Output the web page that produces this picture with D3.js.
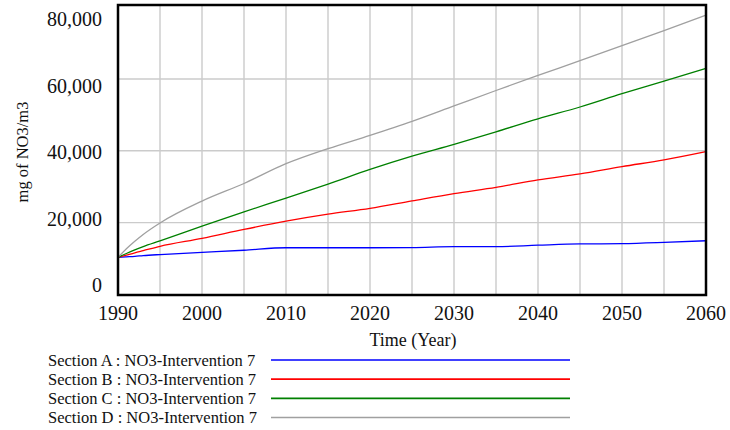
<!DOCTYPE html>
<html>
<head>
<meta charset="utf-8">
<script src="https://cdn.jsdelivr.net/npm/d3@7"></script>
<style>
  html, body { margin: 0; padding: 0; background: #fff; }
  svg { display: block; font-family: "Liberation Serif", "Times New Roman", serif; }
</style>
</head>
<body>
<svg id="chart" width="730" height="430"></svg>
<script>
// ---- data ----
const years = [1990, 1991, 1992, 1993, 1995, 2000, 2005, 2010, 2015, 2020, 2025, 2030, 2035, 2040, 2045, 2050, 2055, 2060];
const sectionA = [10300, 10450, 10600, 10800, 11100, 11700, 12300, 13000, 13000, 13000, 13050, 13300, 13300, 13700, 14050, 14150, 14500, 14950];
const sectionB = [10300, 10950, 11600, 12200, 13400, 15600, 18100, 20400, 22350, 23950, 26050, 28100, 29800, 31900, 33550, 35600, 37450, 39750];
const sectionC = [10300, 11400, 12400, 13300, 14900, 19000, 23000, 26800, 30700, 34800, 38500, 41800, 45300, 48900, 52200, 55900, 59400, 62950];
const sectionD = [10300, 12700, 14800, 16700, 19900, 26000, 30900, 36400, 40600, 44300, 48200, 52500, 56800, 61000, 65100, 69300, 73500, 77800];
const seriesNames = ["Section A : NO3-Intervention 7", "Section B : NO3-Intervention 7",
                     "Section C : NO3-Intervention 7", "Section D : NO3-Intervention 7"];
const seriesColors = ["#0000ff", "#ff0000", "#008000", "#a0a0a0"];
const xTicks = [1990, 2000, 2010, 2020, 2030, 2040, 2050, 2060];
const xGrid = [1995, 2000, 2005, 2010, 2015, 2020, 2025, 2030, 2035, 2040, 2045, 2050, 2055];
const yTicks = [0, 20000, 40000, 60000, 80000];
const yGrid = [20000, 40000, 60000];
const xTitle = "Time (Year)";
const yTitle = "mg of NO3/m3";

const allSeries = [sectionA, sectionB, sectionC, sectionD];

// ---- layout ----
const L = 118, R = 706, T = 5, B = 295;
const svg = d3.select("#chart");

const x = d3.scaleLinear().domain([1990, 2060]).range([L, R]);
const y = d3.scaleLinear().domain([0, 80000]).range([294.4, 7.2]);
// tick labels in the reference sit on a slightly compressed spacing
const yLab = d3.scaleLinear().domain([0, 80000]).range([285, 19]);
const fmt = d3.format(",");

// grid
svg.append("g").selectAll("line").data(xGrid).join("line")
  .attr("x1", d => x(d)).attr("x2", d => x(d)).attr("y1", T).attr("y2", B)
  .attr("stroke", "#cbcbcb").attr("stroke-width", 1.4);
svg.append("g").selectAll("line").data(yGrid).join("line")
  .attr("x1", L).attr("x2", R).attr("y1", d => y(d)).attr("y2", d => y(d))
  .attr("stroke", "#cbcbcb").attr("stroke-width", 1.4);

// lines
const line = d3.line().x((d, i) => x(years[i])).y(d => y(d)).curve(d3.curveMonotoneX);
svg.append("g").selectAll("path").data(allSeries).join("path")
  .attr("d", d => line(d))
  .attr("fill", "none")
  .attr("stroke", (d, i) => seriesColors[i])
  .attr("stroke-width", 1.3);

// frame
svg.append("rect").attr("x", L).attr("y", T).attr("width", R - L).attr("height", B - T)
  .attr("fill", "none").attr("stroke", "#000").attr("stroke-width", 2.5);

// y tick labels
svg.append("g").selectAll("text").data(yTicks).join("text")
  .attr("x", 102).attr("y", d => yLab(d)).attr("dy", "0.35em")
  .attr("text-anchor", "end").attr("font-size", 20).attr("fill", "#111")
  .text(d => fmt(d));

// x tick labels
svg.append("g").selectAll("text").data(xTicks).join("text")
  .attr("x", d => x(d)).attr("y", 313).attr("dy", "0.35em")
  .attr("text-anchor", "middle").attr("font-size", 20).attr("fill", "#111")
  .text(d => d);

// axis titles
svg.append("text").attr("x", 413).attr("y", 340).attr("dy", "0.35em")
  .attr("text-anchor", "middle").attr("font-size", 18).attr("fill", "#111")
  .text(xTitle);
svg.append("text").attr("transform", "translate(22,152) rotate(-90)").attr("dy", "0.35em")
  .attr("text-anchor", "middle").attr("font-size", 16.5).attr("fill", "#111")
  .text(yTitle);

// legend
const legY = d3.scalePoint().domain(d3.range(seriesNames.length)).range([360, 417.5]);
const leg = svg.append("g").selectAll("g").data(seriesNames).join("g");
leg.append("text").attr("x", 48).attr("y", (d, i) => legY(i)).attr("dy", "0.35em")
  .attr("font-size", 16.5).attr("fill", "#111").text(d => d);
leg.append("line").attr("x1", 271).attr("x2", 570)
  .attr("y1", (d, i) => legY(i)).attr("y2", (d, i) => legY(i))
  .attr("stroke", (d, i) => seriesColors[i]).attr("stroke-width", 1.6);
</script>
</body>
</html>
